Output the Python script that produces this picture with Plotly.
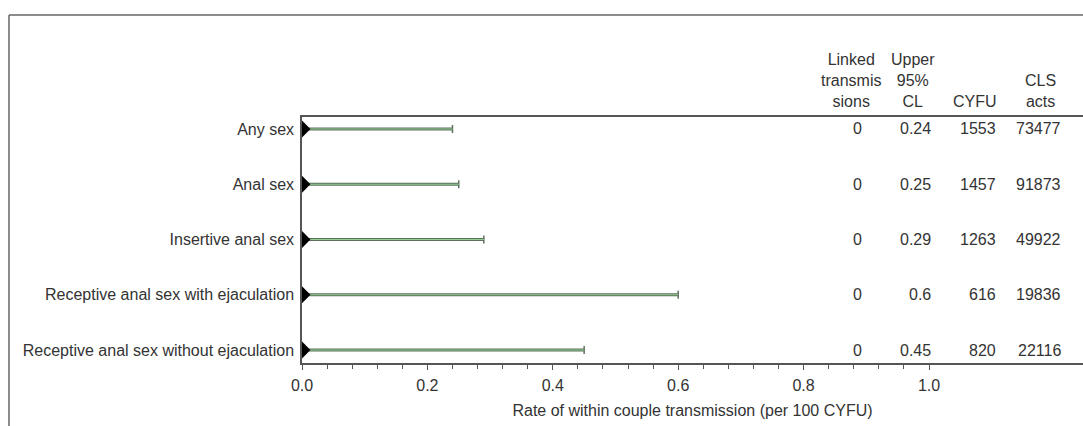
import plotly.graph_objects as go

categories = ["Any sex", "Anal sex", "Insertive anal sex",
              "Receptive anal sex with ejaculation",
              "Receptive anal sex without ejaculation"]
rate = [0, 0, 0, 0, 0]
upper_cl = [0.24, 0.25, 0.29, 0.6, 0.45]
linked = [0, 0, 0, 0, 0]
cyfu = [1553, 1457, 1263, 616, 820]
cls_acts = [73477, 91873, 49922, 19836, 22116]

col_headers = ["Linked<br>transmis<br>sions", "Upper<br>95%<br>CL", "CYFU", "CLS<br>acts"]
tick_vals = [0, 0.2, 0.4, 0.6, 0.8, 1.0]
tick_text = ["0.0", "0.2", "0.4", "0.6", "0.8", "1.0"]
minor_vals = [round(0.04 * i, 2) for i in range(1, 25) if i % 5 != 0]

FONT = "Liberation Sans, Arial, sans-serif"
TXT = "#333333"
FS = 16

W, H = 1083, 426
L, R, T, B = 302, 0, 117, 63
pw = W - L - R
ph = H - T - B
XMAX = pw / 627.0  # 1.0 lands at ~929px

def xd(px):
    return (px - L) / 627.0

zeros = [0] * len(rate)
fig = go.Figure()

# dark outline of the CI line (no cap)
fig.add_trace(go.Scatter(
    x=rate, y=categories, mode="markers",
    marker=dict(size=1, color="rgba(0,0,0,0)"),
    error_x=dict(type="data", symmetric=False, array=upper_cl,
                 arrayminus=zeros, color="#5d705d", thickness=3, width=0),
    hoverinfo="skip", showlegend=False, cliponaxis=True))
# thin dark cap
fig.add_trace(go.Scatter(
    x=rate, y=categories, mode="markers",
    marker=dict(size=1, color="rgba(0,0,0,0)"),
    error_x=dict(type="data", symmetric=False, array=upper_cl,
                 arrayminus=zeros, color="#5d705d", thickness=1.5, width=4),
    hoverinfo="skip", showlegend=False, cliponaxis=True))
# green center of the CI line
fig.add_trace(go.Scatter(
    x=rate, y=categories, mode="markers",
    marker=dict(size=1, color="rgba(0,0,0,0)"),
    error_x=dict(type="data", symmetric=False, array=upper_cl,
                 arrayminus=zeros, color="#8fcf8f", thickness=1, width=0),
    hoverinfo="skip", showlegend=False, cliponaxis=True))
# point estimate markers
fig.add_trace(go.Scatter(
    x=rate, y=categories, mode="markers",
    marker=dict(symbol="diamond", size=13, color="black",
                line=dict(width=0)),
    showlegend=False, cliponaxis=True))

annotations = []
col_x_right = [xd(864), xd(933), xd(998), xd(1063)]
columns = [linked, upper_cl, cyfu, cls_acts]
for cx, col in zip(col_x_right, columns):
    for cat, v in zip(categories, col):
        annotations.append(dict(
            x=cx, y=cat, xref="x", yref="y", text=str(v),
            showarrow=False, xanchor="right", yanchor="middle",
            font=dict(family=FONT, size=FS, color=TXT)))

hdr_x = [xd(851), xd(913), xd(975), xd(1040)]
for hx, h in zip(hdr_x, col_headers):
    annotations.append(dict(
        x=hx, y=1 + 5 / ph, xref="x", yref="paper", text=h,
        showarrow=False, xanchor="center", yanchor="bottom", align="center",
        font=dict(family=FONT, size=FS, color=TXT)))

fig.update_layout(
    width=W, height=H,
    margin=dict(l=L, r=R, t=T, b=B, pad=0),
    paper_bgcolor="white", plot_bgcolor="white",
    font=dict(family=FONT, size=FS, color=TXT),
    annotations=annotations,
    shapes=[
        dict(type="line", xref="paper", yref="paper",
             x0=(9 - L) / pw, x1=1.0, y0=(H - B - 15) / ph, y1=(H - B - 15) / ph,
             line=dict(color="#666666", width=1.5)),
        dict(type="line", xref="paper", yref="paper",
             x0=(9 - L) / pw, x1=(9 - L) / pw, y0=(H - B - 15) / ph, y1=-B / ph,
             line=dict(color="#666666", width=1.5)),
    ],
)

fig.update_xaxes(
    range=[0, XMAX], tickvals=tick_vals, ticktext=tick_text,
    ticks="outside", ticklen=5, tickwidth=1, tickcolor="#555555",
    minor=dict(tickvals=minor_vals, ticks="outside", ticklen=4,
               tickwidth=1, tickcolor="#555555"),
    showline=True, linecolor="#555555", linewidth=1.5, mirror=True,
    showgrid=False, zeroline=False, ticklabelstandoff=2,
    tickfont=dict(family=FONT, size=FS, color=TXT),
    title=dict(text="Rate of within couple transmission (per 100 CYFU)",
               font=dict(family=FONT, size=FS, color=TXT), standoff=12),
)
fig.update_yaxes(
    type="category", categoryorder="array", categoryarray=categories,
    range=[len(categories) - 1 + 0.235, -0.217],
    showline=True, linecolor="#555555", linewidth=1.5,
    showgrid=False, zeroline=False, ticks="", ticklabelstandoff=3,
    tickfont=dict(family=FONT, size=FS, color=TXT),
)

fig.write_html("out.html", config={"displayModeBar": False},
               post_script="document.body.style.margin='0';")
